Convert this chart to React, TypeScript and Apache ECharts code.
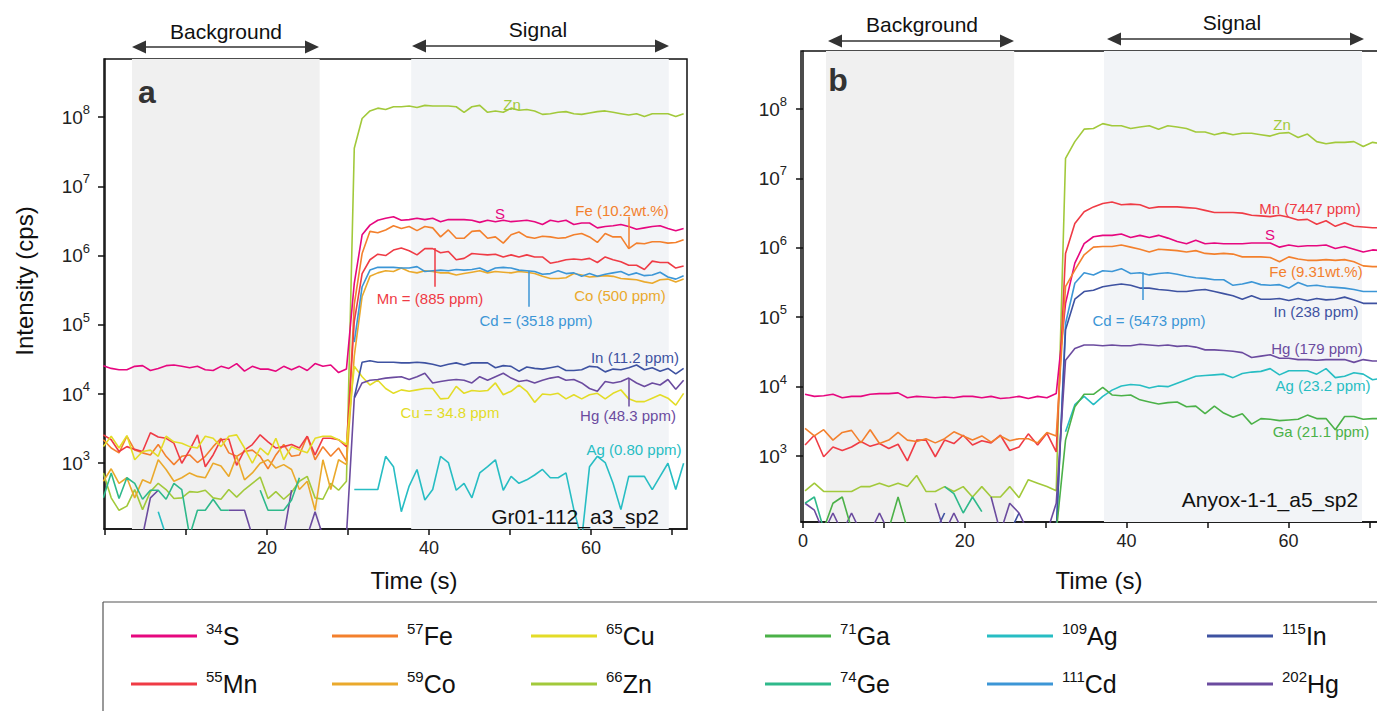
import React, { useEffect, useRef } from "react";
import * as echarts from "echarts";

const FONT = "'Liberation Sans', Arial, Helvetica, sans-serif";
const _ = null;

// ---------- acquisition timing (s) ----------
const A_T0 = -0.2;
const A_STEP = 0.968;
const B_T0 = 0.25;
const B_STEP = 1.15;

// ---------- panel a : log10 intensity (cps) per sweep ----------
const A_S = [4.41,4.37,4.35,4.35,4.40,4.41,4.34,4.37,4.41,4.42,4.40,4.38,4.40,4.35,4.34,4.40,4.37,4.44,4.33,4.40,4.36,4.36,4.33,4.40,4.35,4.40,4.34,4.44,4.40,4.42,4.31,4.36,
  5.60,6.30,6.44,6.51,6.54,6.56,6.51,6.52,6.54,6.52,6.54,6.49,6.52,6.52,6.52,6.51,6.48,6.51,6.49,6.51,6.49,6.50,6.51,6.49,6.45,6.51,6.49,6.51,6.45,6.47,6.47,6.40,6.42,6.43,6.45,6.42,6.38,6.40,6.42,6.43,6.39,6.36,6.39];
const A_Zn = [2.86,2.50,2.32,2.38,2.62,2.33,2.59,2.71,2.62,2.49,2.50,2.59,2.58,2.61,2.50,2.48,2.62,2.51,2.62,2.71,2.80,2.49,2.59,2.48,2.58,2.74,2.81,2.50,2.48,2.71,2.61,2.74,
  7.55,7.98,8.09,8.13,8.11,8.15,8.15,8.16,8.14,8.17,8.16,8.16,8.16,8.15,8.07,8.15,8.17,8.07,8.09,8.07,8.13,8.10,8.11,8.09,8.04,8.05,8.07,8.08,8.05,8.04,8.06,8.08,8.09,8.07,8.05,8.03,8.05,8.01,8.05,8.05,8.05,8.01,8.05];
const A_Fe = [3.34,3.22,3.15,3.39,3.19,3.15,3.12,3.27,3.10,2.98,3.10,3.12,3.01,3.10,3.24,3.36,3.15,3.10,3.17,3.19,3.10,2.92,3.12,3.27,3.10,3.12,3.39,3.05,3.24,3.10,3.22,3.03,
  5.30,6.03,6.35,6.33,6.37,6.43,6.39,6.42,6.36,6.42,6.40,6.27,6.37,6.25,6.25,6.35,6.36,6.25,6.27,6.18,6.30,6.34,6.27,6.25,6.28,6.27,6.25,6.26,6.30,6.32,6.27,6.19,6.32,6.27,6.27,6.10,6.18,6.17,6.20,6.20,6.18,6.19,6.23];
const A_Mn = [3.41,3.34,3.17,3.24,3.20,3.17,3.44,3.38,3.36,3.29,3.00,3.19,3.41,2.95,3.12,3.34,3.35,2.97,3.19,3.27,3.41,3.31,3.22,3.24,3.27,3.22,3.39,3.12,3.36,3.36,3.34,3.24,
  5.05,5.74,5.94,6.02,6.00,6.08,6.11,6.07,6.01,6.10,6.10,6.04,6.06,5.94,5.96,6.03,6.02,6.01,6.02,5.98,6.01,5.98,6.01,5.98,5.98,5.89,5.91,5.94,5.95,5.94,5.96,5.90,5.98,5.94,5.91,5.86,5.86,5.80,5.92,5.90,5.90,5.82,5.85];
const A_Co = [2.74,2.92,2.71,2.79,2.50,2.76,2.71,3.05,2.91,2.74,2.79,2.86,2.81,2.79,3.00,2.96,2.81,3.10,2.76,2.86,3.00,3.05,2.93,2.98,2.91,2.62,2.74,2.32,3.05,2.62,3.05,2.98,
  4.55,5.41,5.70,5.75,5.78,5.77,5.82,5.77,5.75,5.78,5.77,5.75,5.75,5.72,5.74,5.76,5.78,5.75,5.77,5.76,5.75,5.77,5.76,5.74,5.70,5.67,5.67,5.68,5.74,5.72,5.69,5.70,5.71,5.70,5.67,5.66,5.65,5.62,5.60,5.65,5.66,5.62,5.66];
const A_Cd = [_,_,_,_,_,_,_,_,_,_,_,_,_,_,_,_,_,_,_,_,_,_,_,_,_,_,_,_,_,_,_,_,
  4.75,5.55,5.79,5.83,5.83,5.83,5.82,5.82,5.84,5.77,5.78,5.79,5.78,5.80,5.79,5.80,5.82,5.77,5.82,5.83,5.82,5.79,5.78,5.77,5.73,5.74,5.78,5.74,5.75,5.70,5.74,5.70,5.73,5.75,5.77,5.72,5.75,5.71,5.72,5.76,5.69,5.66,5.71];
const A_In = [_,_,_,_,_,_,_,_,_,_,_,_,_,_,_,_,_,_,_,_,_,_,_,_,_,_,_,_,_,_,_,_,
  3.95,4.46,4.48,4.46,4.46,4.46,4.45,4.45,4.46,4.45,4.43,4.40,4.43,4.45,4.42,4.45,4.45,4.45,4.38,4.41,4.40,4.33,4.39,4.37,4.36,4.38,4.40,4.34,4.34,4.35,4.40,4.39,4.32,4.36,4.35,4.38,4.42,4.35,4.38,4.33,4.37,4.29,4.37];
const A_Hg = [_,_,_,_,_,1.95,2.50,2.61,_,_,_,_,_,_,_,_,2.32,2.32,2.32,1.95,_,_,_,1.95,2.61,_,1.95,2.30,1.95,_,_,1.95,
  3.94,4.16,4.20,4.21,4.23,4.24,4.25,4.21,4.25,4.30,4.16,4.18,4.20,4.21,4.20,4.16,4.25,4.20,4.25,4.30,4.23,4.18,4.20,4.16,4.20,4.23,4.25,4.20,4.21,4.16,4.08,4.04,4.18,4.16,4.18,4.23,4.16,4.11,4.16,4.13,4.21,4.07,4.20];
const A_Cu = [3.24,3.39,3.22,3.40,3.05,3.17,3.19,3.10,3.39,3.31,3.29,3.24,3.22,3.39,3.36,3.24,3.39,3.41,3.22,3.00,3.22,3.12,3.36,3.05,3.24,3.19,3.15,3.36,3.39,3.39,3.34,3.27,
  4.40,4.25,4.13,4.20,4.08,4.01,4.06,4.04,4.06,4.08,4.08,3.93,3.94,4.11,4.01,4.05,4.04,4.05,4.16,3.99,4.04,4.13,4.04,3.88,4.00,3.99,4.01,3.93,3.99,3.93,3.99,4.01,3.93,4.01,4.06,3.93,3.89,3.89,3.94,3.99,3.94,3.84,4.01];
const A_Ag = [_,_,_,_,_,_,_,2.30,1.95,_,_,_,_,_,_,_,_,_,_,_,_,_,_,_,_,_,_,_,_,_,_,_,
  2.62,2.62,2.62,2.62,3.10,2.95,2.30,2.67,2.91,2.47,2.62,3.10,3.01,2.61,2.71,2.50,2.86,2.95,3.05,2.61,2.81,2.71,2.76,2.83,2.91,2.79,2.79,2.86,2.33,1.90,2.95,3.10,3.01,2.71,2.33,2.81,2.81,2.81,2.62,2.81,3.00,2.62,3.00];
const A_Ge = [2.50,2.86,2.49,2.79,2.71,2.48,2.61,2.61,2.48,2.71,2.62,1.95,2.32,2.32,2.48,2.32,2.32,_,_,_,2.61,2.32,2.32,2.32,2.47,2.79];

// ---------- panel b : log10 intensity (cps) per sweep ----------
const B_S = [3.89,3.86,3.87,3.89,3.84,3.86,3.86,3.89,3.90,3.90,3.91,3.84,3.86,3.85,3.84,3.85,3.84,3.86,3.86,3.84,3.86,3.83,3.84,3.86,3.83,3.86,3.84,3.90,
  5.20,5.78,6.06,6.16,6.18,6.18,6.20,6.15,6.18,6.15,6.18,6.14,6.09,6.06,6.11,6.06,6.07,6.06,6.06,6.06,6.07,6.07,6.07,6.01,6.04,6.02,6.03,6.03,6.04,5.99,6.02,5.98,5.94,5.97,5.96];
const B_Zn = [2.50,2.61,2.49,2.49,2.49,2.49,2.56,2.56,2.61,2.56,2.61,2.56,2.72,2.49,2.49,2.56,2.49,2.56,2.41,2.56,2.41,2.41,2.56,2.40,2.66,2.61,2.56,2.50,
  7.29,7.53,7.71,7.72,7.79,7.76,7.76,7.72,7.74,7.76,7.71,7.76,7.74,7.72,7.67,7.67,7.63,7.66,7.63,7.65,7.65,7.63,7.61,7.65,7.66,7.59,7.64,7.53,7.50,7.52,7.52,7.53,7.46,7.52,7.50];
const B_Mn = [3.16,3.30,2.99,3.13,3.08,3.13,3.21,3.14,3.18,3.11,3.17,2.93,3.23,3.23,2.99,3.23,3.18,3.30,3.16,3.22,3.19,3.30,3.08,3.13,3.32,3.16,3.33,3.06,
  5.92,6.35,6.52,6.59,6.64,6.66,6.62,6.63,6.62,6.57,6.59,6.59,6.59,6.58,6.57,6.54,6.51,6.51,6.51,6.50,6.47,6.46,6.45,6.47,6.44,6.40,6.41,6.34,6.39,6.31,6.36,6.31,6.30,6.29,6.29];
const B_Fe = [3.40,3.29,3.38,3.23,3.34,3.37,3.19,3.38,3.18,3.23,3.34,3.23,3.21,3.25,3.19,3.25,3.35,3.29,3.23,3.29,3.20,3.29,3.22,3.25,3.25,3.19,3.34,3.29,
  5.44,5.68,5.90,6.01,6.02,6.02,6.04,6.01,5.98,5.94,5.98,5.97,5.96,5.94,5.96,5.92,5.91,5.92,5.91,5.87,5.87,5.87,5.86,5.80,5.87,5.84,5.82,5.82,5.83,5.82,5.83,5.80,5.74,5.73,5.73];
const B_Cd = [_,_,_,_,_,_,_,_,_,_,_,_,_,_,_,_,_,_,_,_,_,_,_,_,_,_,_,1.90,
  4.91,5.49,5.64,5.61,5.67,5.66,5.70,5.63,5.64,5.61,5.63,5.64,5.62,5.59,5.57,5.56,5.54,5.54,5.46,5.48,5.51,5.47,5.46,5.47,5.42,5.50,5.45,5.46,5.44,5.43,5.42,5.40,5.37,5.37,5.37];
const B_In = [_,_,_,_,_,_,_,_,_,_,_,_,_,_,1.90,2.18,_,_,_,_,_,_,1.90,2.18,_,_,_,1.90,
  4.82,5.26,5.37,5.39,5.44,5.46,5.48,5.46,5.42,5.42,5.40,5.39,5.37,5.37,5.39,5.40,5.37,5.34,5.31,5.26,5.31,5.26,5.26,5.27,5.24,5.27,5.24,5.27,5.25,5.26,5.29,5.25,5.20,5.20,5.20];
const B_Hg = [2.32,2.22,1.90,2.18,1.90,2.18,1.90,1.90,2.18,1.90,_,_,_,_,2.32,1.90,2.18,1.90,_,_,2.41,1.90,2.32,2.18,1.90,_,1.90,2.32,
  4.38,4.55,4.60,4.60,4.59,4.60,4.59,4.59,4.61,4.60,4.59,4.60,4.58,4.59,4.57,4.53,4.53,4.52,4.51,4.49,4.42,4.44,4.46,4.41,4.41,4.39,4.39,4.38,4.39,4.39,4.39,4.35,4.39,4.37,4.37];
const B_Ag = [_,_,_,_,_,_,_,_,_,_,_,_,_,_,_,_,_,_,_,_,_,_,_,_,_,_,_,_,
  3.35,3.74,3.86,3.74,3.86,3.95,4.01,4.03,4.02,3.98,4.01,4.00,4.05,4.10,4.15,4.16,4.17,4.18,4.13,4.19,4.21,4.22,4.26,4.17,4.23,4.23,4.23,4.18,4.26,4.13,4.15,4.20,4.18,4.10,4.12];
const B_Ga = [_,_,1.95,2.32,2.41,1.95,_,_,_,1.95,2.41,1.95,_,_,_,_,_,_,_,_,_,_,_,_,_,_,_,1.90,
  3.23,3.71,3.89,3.89,3.99,3.88,3.87,3.88,3.81,3.78,3.75,3.77,3.78,3.71,3.72,3.61,3.72,3.62,3.56,3.61,3.46,3.54,3.53,3.51,3.52,3.53,3.59,3.54,3.54,3.38,3.57,3.57,3.53,3.54,3.54];
const B_Ge = [2.32,2.41,1.95,_,_,_,_,_,_,_,_,_,_,_,_,2.56,2.46,2.18,2.41,2.20];

// ---------- labels / legend ----------
const ISO: Record<string, string> = { S: "34", Mn: "55", Fe: "57", Co: "59", Cu: "65", Zn: "66", Ga: "71", Ge: "74", Ag: "109", Cd: "111", In: "115", Hg: "202" };
const COLORS: Record<string, string> = {
  S: "#e6077f", Mn: "#ef3b45", Fe: "#f3802d", Co: "#eaa92c", Cu: "#e3dc27", Zn: "#a2c93b",
  Ga: "#4bb148", Ge: "#2fb98b", Ag: "#27bdc3", Cd: "#3c96d6", In: "#3e52a1", Hg: "#6b4b9f",
};
const LEGEND_ORDER = [["S", "Mn"], ["Fe", "Co"], ["Cu", "Zn"], ["Ga", "Ge"], ["Ag", "Cd"], ["In", "Hg"]];
const X_TICKS = [0, 10, 20, 30, 40, 50, 60, 70];
const X_LABELS_A = [20, 40, 60];
const X_LABELS_B = [0, 20, 40, 60];
const Y_TICKS = [3, 4, 5, 6, 7, 8];

const PANEL_A: [string, (number | null)[]][] = [
  ["Zn", A_Zn], ["S", A_S], ["Fe", A_Fe], ["Mn", A_Mn], ["Co", A_Co], ["Cd", A_Cd],
  ["Cu", A_Cu], ["Hg", A_Hg], ["In", A_In], ["Ag", A_Ag], ["Ge", A_Ge],
];
const PANEL_B: [string, (number | null)[]][] = [
  ["Zn", B_Zn], ["Mn", B_Mn], ["S", B_S], ["Fe", B_Fe], ["Cd", B_Cd], ["In", B_In],
  ["Hg", B_Hg], ["Ag", B_Ag], ["Ga", B_Ga], ["Ge", B_Ge],
];

const LABELS_A = [
  { text: "Zn", el: "Zn", x: 512, y: 104 },
  { text: "S", el: "S", x: 500, y: 213 },
  { text: "Fe (10.2wt.%)", el: "Fe", x: 622, y: 210 },
  { text: "Mn = (885 ppm)", el: "Mn", x: 430, y: 298 },
  { text: "Cd = (3518 ppm)", el: "Cd", x: 536, y: 320 },
  { text: "Co (500 ppm)", el: "Co", x: 620, y: 295 },
  { text: "In (11.2 ppm)", el: "In", x: 635, y: 357 },
  { text: "Cu = 34.8 ppm", el: "Cu", x: 450, y: 412 },
  { text: "Hg (48.3 ppm)", el: "Hg", x: 628, y: 415 },
  { text: "Ag (0.80 ppm)", el: "Ag", x: 634, y: 449 },
];
const LABELS_B = [
  { text: "Zn", el: "Zn", x: 1282, y: 124 },
  { text: "Mn (7447 ppm)", el: "Mn", x: 1310, y: 208 },
  { text: "S", el: "S", x: 1270, y: 234 },
  { text: "Fe (9.31wt.%)", el: "Fe", x: 1316, y: 271 },
  { text: "Cd = (5473 ppm)", el: "Cd", x: 1149, y: 320 },
  { text: "In (238 ppm)", el: "In", x: 1316, y: 311 },
  { text: "Hg (179 ppm)", el: "Hg", x: 1317, y: 348 },
  { text: "Ag (23.2 ppm)", el: "Ag", x: 1323, y: 385 },
  { text: "Ga (21.1 ppm)", el: "Ga", x: 1321, y: 431 },
];

// leader lines: [element, time, log from, log to]
const LEADERS_A: [string, number, number, number][] = [
  ["Fe", 64.7, 6.56, 6.11], ["Mn", 40.7, 6.11, 5.55], ["Cd", 52.3, 5.78, 5.26], ["Hg", 64.7, 4.22, 3.82],
];
const LEADERS_B: [string, number, number, number][] = [["Cd", 42.0, 5.65, 5.25]];

function buildSeries(panel: [string, (number | null)[]][], t0: number, step: number, axis: number,
  leaders: [string, number, number, number][], shade: number[][]) {
  return panel.map(([el, vals], idx) => {
    const s: any = {
      type: "line",
      name: ISO[el] + el,
      xAxisIndex: axis,
      yAxisIndex: axis,
      data: vals.map((v, i) => [+(t0 + i * step).toFixed(3), v == null ? "-" : v]),
      showSymbol: false,
      symbol: "none",
      connectNulls: false,
      silent: true,
      z: 3,
      lineStyle: { width: 1.6, color: COLORS[el] },
      itemStyle: { color: COLORS[el] },
      emphasis: { disabled: true },
    };
    const ls = leaders.filter((l) => l[0] === el);
    if (ls.length) {
      s.markLine = {
        silent: true, symbol: ["none", "none"], label: { show: false },
        lineStyle: { type: "solid", width: 1.5, color: COLORS[el] },
        data: ls.map((l) => [{ coord: [l[1], l[2]] }, { coord: [l[1], l[3]] }]),
      };
    }
    if (idx === 0) {
      s.markArea = {
        silent: true,
        data: [
          [{ xAxis: shade[0][0], itemStyle: { color: "#f0f0f0" } }, { xAxis: shade[0][1] }],
          [{ xAxis: shade[1][0], itemStyle: { color: "#f2f4f7" } }, { xAxis: shade[1][1] }],
        ],
      };
    }
    return s;
  });
}

function arrow(x1: number, x2: number, y: number) {
  const c = "#333";
  return [
    { type: "line", z: 50, shape: { x1: x1 + 12, y1: y, x2: x2 - 12, y2: y }, style: { stroke: c, lineWidth: 1.6 }, silent: true },
    { type: "polygon", z: 50, shape: { points: [[x1, y], [x1 + 14, y - 6.5], [x1 + 14, y + 6.5]] }, style: { fill: c }, silent: true },
    { type: "polygon", z: 50, shape: { points: [[x2, y], [x2 - 14, y - 6.5], [x2 - 14, y + 6.5]] }, style: { fill: c }, silent: true },
  ];
}

function txt(text: string, x: number, y: number, size: number, color: string, extra: any = {}) {
  const { weight, align, ...rest } = extra;
  return {
    type: "text", x, y, z: 50, silent: true, ...rest,
    style: { text, fill: color, font: `${weight || "normal"} ${size}px ${FONT}`, textAlign: align || "center", textVerticalAlign: "middle" },
  };
}

export default function App() {
  const ref = useRef<HTMLDivElement>(null);
  useEffect(() => {
    if (!ref.current) return;
    const chart = echarts.init(ref.current, undefined, { renderer: "svg" });

    const yAxisBase = (gridIndex: number) => ({
      type: "value", gridIndex, min: 2.05, max: 8.84,
      splitLine: { show: false },
      axisLine: { show: true, lineStyle: { color: "#111", width: 1.5 } },
      axisTick: { show: true, length: 7, customValues: Y_TICKS, lineStyle: { color: "#111", width: 1.5 } },
      axisLabel: {
        customValues: Y_TICKS, margin: 14,
        formatter: (v: number) => `{b|10}{s|${Math.round(v)}}`,
        rich: {
          b: { fontSize: 19, lineHeight: 28, color: "#222", fontFamily: FONT },
          s: { fontSize: 13, lineHeight: 15, verticalAlign: "top", color: "#222", fontFamily: FONT },
        },
      },
    });
    const xAxisBase = (gridIndex: number, min: number, max: number, labels: number[]) => ({
      type: "value", gridIndex, min, max,
      splitLine: { show: false },
      axisLine: { show: true, onZero: false, lineStyle: { color: "#111", width: 1.5 } },
      axisTick: { show: true, length: 6, customValues: X_TICKS, lineStyle: { color: "#111", width: 1.5 } },
      axisLabel: { customValues: labels, margin: 10, fontSize: 18, color: "#222", fontFamily: FONT },
    });

    const legends = LEGEND_ORDER.flatMap((pair, c) =>
      pair.map((el, r) => ({
        data: [ISO[el] + el],
        left: [131, 332, 531, 765, 987, 1207][c],
        top: [636, 684][r] - 15,
        icon: "rect", itemWidth: 66, itemHeight: 3, padding: 0, selectedMode: false,
        formatter: () => `{s|${ISO[el]}}{e|${el}}`,
        textStyle: {
          color: "#111",
          rich: {
            s: { fontSize: 15, lineHeight: 15, verticalAlign: "top", padding: [0, 0, 0, 4], fontFamily: FONT, color: "#111" },
            e: { fontSize: 25, lineHeight: 30, fontFamily: FONT, color: "#111" },
          },
        },
      }))
    );

    const graphic: any[] = [
      ...arrow(132, 319, 47), ...arrow(412, 669, 46), ...arrow(828, 1014, 41), ...arrow(1107, 1364, 39),
      txt("Background", 226, 31, 21, "#111"), txt("Signal", 538, 29, 21, "#111"),
      txt("Background", 922, 24, 21, "#111"), txt("Signal", 1232, 22, 21, "#111"),
      txt("a", 147, 92, 32, "#333", { weight: "bold" }),
      txt("b", 838, 80, 32, "#333", { weight: "bold" }),
      txt("Intensity (cps)", 24, 281, 24, "#111", { rotation: Math.PI / 2 }),
      txt("Time (s)", 414, 580, 24, "#111"),
      txt("Time (s)", 1099, 580, 24, "#111"),
      txt("Gr01-112_a3_sp2", 575, 516, 21, "#111"),
      txt("Anyox-1-1_a5_sp2", 1270, 499, 21, "#111"),
      ...LABELS_A.map((l) => txt(l.text, l.x, l.y, 15, COLORS[l.el])),
      ...LABELS_B.map((l) => txt(l.text, l.x, l.y, 15, COLORS[l.el])),
      { type: "line", z: 50, shape: { x1: 103, y1: 602, x2: 1390, y2: 602 }, style: { stroke: "#555", lineWidth: 1.2 }, silent: true },
      { type: "line", z: 50, shape: { x1: 103, y1: 602, x2: 103, y2: 711 }, style: { stroke: "#555", lineWidth: 1.2 }, silent: true },
    ];

    chart.setOption({
      animation: false,
      backgroundColor: "#ffffff",
      textStyle: { fontFamily: FONT },
      grid: [
        { left: 104, top: 59, width: 583, height: 470, show: true, borderColor: "#111", borderWidth: 1.5, backgroundColor: "transparent" },
        { left: 801, top: 51, width: 584, height: 471, show: true, borderColor: "#111", borderWidth: 1.5, backgroundColor: "transparent" },
      ],
      xAxis: [xAxisBase(0, -0.12, 71.85, X_LABELS_A), xAxisBase(1, -0.25, 71.94, X_LABELS_B)],
      yAxis: [yAxisBase(0), { ...yAxisBase(1), max: 8.836 }],
      legend: legends,
      series: [
        ...buildSeries(PANEL_A, A_T0, A_STEP, 0, LEADERS_A, [[3.33, 26.5], [37.8, 69.6]]),
        ...buildSeries(PANEL_B, B_T0, B_STEP, 1, LEADERS_B, [[2.84, 26.1], [37.2, 69.1]]),
      ],
      graphic,
    });
    return () => chart.dispose();
  }, []);
  // the figure is cropped on the right: the drawing surface is a little wider than the window
  return <div ref={ref} style={{ position: "fixed", left: 0, top: 0, width: 1400, height: 711 }} />;
}
